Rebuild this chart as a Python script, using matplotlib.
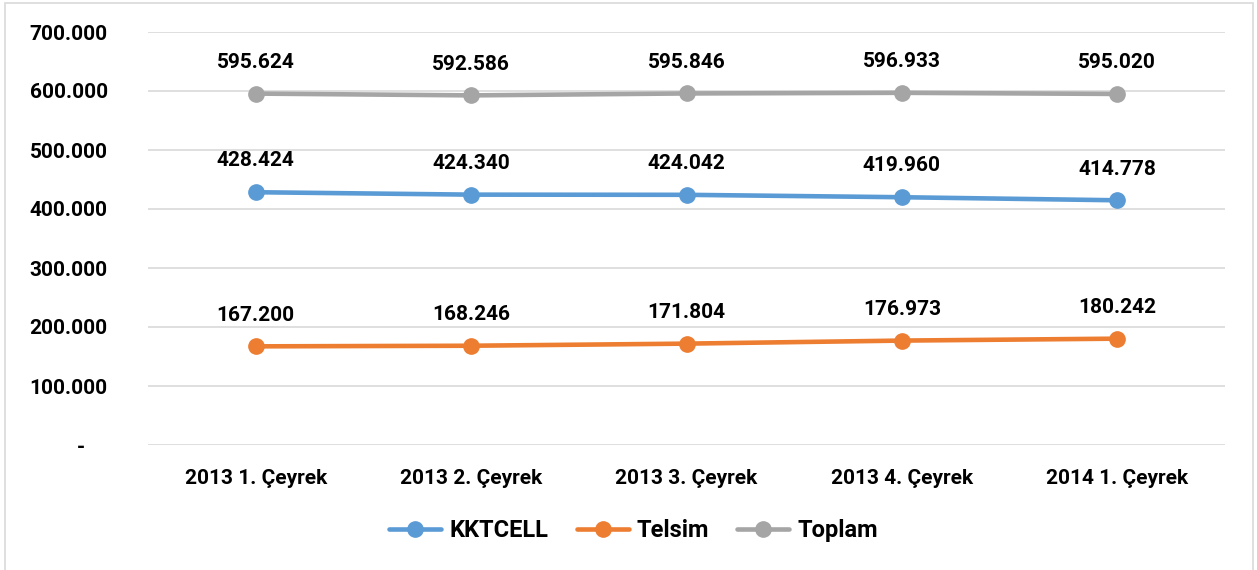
import matplotlib
matplotlib.use("Agg")
import matplotlib.pyplot as plt
import matplotlib.transforms as mtransforms
from matplotlib.ticker import FuncFormatter

plt.rcParams['font.family'] = ['Roboto', 'DejaVu Sans']
plt.rcParams['font.weight'] = 'bold'

quarters = ["2013 1. Çeyrek", "2013 2. Çeyrek", "2013 3. Çeyrek",
            "2013 4. Çeyrek", "2014 1. Çeyrek"]
kktcell = [428424, 424340, 424042, 419960, 414778]
telsim = [167200, 168246, 171804, 176973, 180242]
toplam = [595624, 592586, 595846, 596933, 595020]

series = [("KKTCELL", kktcell, "#5B9BD5"),
          ("Telsim", telsim, "#ED7D31"),
          ("Toplam", toplam, "#A5A5A5")]


def fmt(v, pos=None):
    if v == 0:
        return "-"
    return "{:,.0f}".format(v).replace(",", ".")


fig = plt.figure(figsize=(12.57, 5.70), dpi=100)
ax = fig.add_axes([148/1257, 1-445/570, (1225-148)/1257, (445-32)/570])

x = list(range(len(quarters)))
for name, vals, col in series:
    ax.plot(x, vals, color=col, lw=3.3, marker='o', ms=11, label=name,
            solid_capstyle='round')
    for xi, v in zip(x, vals):
        ax.annotate(fmt(v), (xi, v), xytext=(0, 22.5), textcoords='offset points',
                    ha='center', va='center', fontsize=15, fontweight='bold')

ax.set_xlim(-0.5, 4.5)
ax.set_ylim(0, 700000)
ax.set_yticks(range(0, 700001, 100000))
ax.yaxis.set_major_formatter(FuncFormatter(fmt))
ax.set_xticks(x)
ax.set_xticklabels(quarters)
ax.grid(axis='y', color='#D9D9D9', lw=1.2)
ax.set_axisbelow(True)
for s in ax.spines.values():
    s.set_visible(False)
ax.tick_params(axis='both', length=0, labelsize=15)
ax.tick_params(axis='y', pad=29)
ax.tick_params(axis='x', pad=17)

# the zero label sits further left, like Excel's accounting format
lab0 = ax.get_yticklabels()[0]
lab0.set_transform(lab0.get_transform() +
                   mtransforms.ScaledTranslation(-23/100, 0, fig.dpi_scale_trans))

leg = ax.legend(loc='center', bbox_to_anchor=(0.451, -0.208), ncol=3, frameon=False,
                prop={'size': 17, 'weight': 'bold'}, handlelength=2.2,
                handletextpad=0.34, columnspacing=1.2)

# outer chart border
fig.patches.append(plt.Rectangle((5/1257, -0.05), 1248/1257, 1-3/570+0.05,
                                 transform=fig.transFigure, fill=False,
                                 ec='#D9D9D9', lw=1.2))

fig.savefig("out.png", dpi=100)
